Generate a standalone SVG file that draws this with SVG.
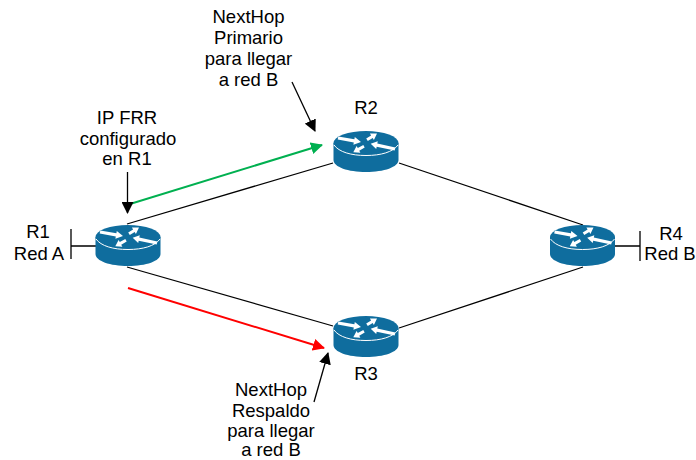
<svg xmlns="http://www.w3.org/2000/svg" width="696" height="460" viewBox="0 0 696 460">
<style>
text{font-family:"Liberation Sans",Arial,sans-serif;font-size:18.5px;fill:#000;text-anchor:middle}
.l{stroke:#000;stroke-width:1.3;fill:none}
.a{stroke:#000;stroke-width:1.3;fill:none;marker-end:url(#mk)}
</style>
<defs>
<marker id="mk" viewBox="0 0 12 12" refX="11" refY="6" markerUnits="userSpaceOnUse" markerWidth="12" markerHeight="12" orient="auto"><path d="M0 0L12 6L0 12z" fill="#000"/></marker>
<marker id="mg" viewBox="0 0 12 12" refX="11" refY="6" markerUnits="userSpaceOnUse" markerWidth="12" markerHeight="12" orient="auto"><path d="M0 0L12 6L0 12z" fill="#00b050"/></marker>
<marker id="mr" viewBox="0 0 12 12" refX="11" refY="6" markerUnits="userSpaceOnUse" markerWidth="12" markerHeight="12" orient="auto"><path d="M0 0L12 6L0 12z" fill="#ff0000"/></marker>
<g id="router">
<path d="M-32.500 0V17C-32.500 24 -18 29 0 29S32.500 24 32.500 17V0z" fill="#0f6d9e"/>
<ellipse rx="32.500" ry="12" fill="#0f6d9e"/>
<path d="M-32 2C-27 9 -15 12.500 0 12.500S27 9 32 2" fill="none" stroke="#fff" stroke-width="1"/>
<g fill="#fff">
<path d="M-27.700 -6.600L-11.600 -3.800L-11.200 -6.100L-5 -1L-12.600 1.700L-12.200 -.6L-28.300 -3.400z"/>
<path d="M.2 -4.600L5.100 -7.600L3.900 -9.500L11 -9.500L7.900 -3L6.700 -5L1.800 -2z"/>
<path d="M4.700 .7L11.800 -1.800L11.300 .5L29.300 4.400L28.700 7.600L10.700 3.700L10.200 6z"/>
<path d="M-12.700 9.300L-9.400 3.100L-8.200 5.100L-2.700 2L-1.300 4.600L-6.800 7.700L-5.600 9.700z"/>
</g>
</g>
</defs>
<g id="connectors">
<path class="l" d="M127 224L333 163"/>
<path class="l" d="M399 163L583 225"/>
<path class="l" d="M127 267L333 326"/>
<path class="l" d="M399 328L583 267"/>
<path class="l" d="M71 246H96M71 229V259"/>
<path class="l" d="M615 246H640M640 231V261"/>
<path d="M130 204L322 145" fill="none" stroke="#00b050" stroke-width="2" marker-end="url(#mg)"/>
<path d="M128 288L324 348" fill="none" stroke="#ff0000" stroke-width="2" marker-end="url(#mr)"/>
<path class="a" d="M127.500 172V213"/>
<path class="a" d="M292 82L315 131"/>
<path class="a" d="M314 402L328 353"/>
</g>
<g id="R1"><use href="#router" x="128" y="237"/><text x="38" y="238">R1</text><text x="39" y="260">Red A</text></g>
<g id="R2"><use href="#router" x="366" y="143"/><text x="366" y="114">R2</text></g>
<g id="R3"><use href="#router" x="366" y="328"/><text x="366" y="380">R3</text></g>
<g id="R4"><use href="#router" x="582.500" y="237"/><text x="671" y="240">R4</text><text x="670" y="260">Red B</text></g>
<g id="label-frr"><text x="127" y="124">IP FRR</text><text x="128" y="145">configurado</text><text x="127" y="165">en R1</text></g>
<g id="label-primario"><text x="248.500" y="23">NextHop</text><text x="248.500" y="44">Primario</text><text x="248.500" y="65">para llegar</text><text x="248.500" y="86">a red B</text></g>
<g id="label-respaldo"><text x="271" y="396">NextHop</text><text x="271" y="417">Respaldo</text><text x="271" y="437">para llegar</text><text x="271" y="456">a red B</text></g>
</svg>
